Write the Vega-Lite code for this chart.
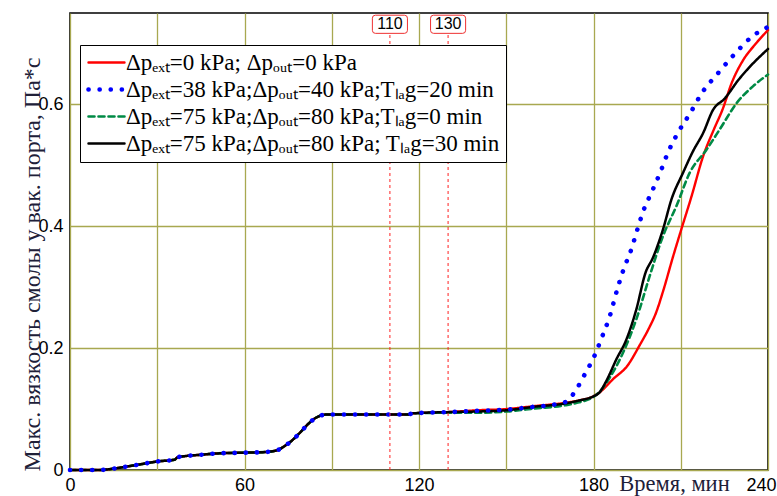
{
  "$schema": "https://vega.github.io/schema/vega-lite/v6.json",
  "autosize": "none",
  "width": 698,
  "height": 457,
  "padding": {"left": 70, "top": 13, "right": 9, "bottom": 26},
  "background": "white",
  "config": {
    "view": {"stroke": "#000000", "strokeWidth": 1.6},
    "axis": {"gridColor": "#a8a850", "gridWidth": 1.3, "gridOpacity": 1, "domain": false, "ticks": false,
             "labelFont": "Liberation Sans", "labelFontSize": 18, "labelColor": "#000000"}
  },
  "datasets": {
    "curves": [
      {"s":"r","t":0,"v":0},{"s":"r","t":10,"v":0},{"s":"r","t":13,"v":0.001},{"s":"r","t":16,"v":0.003},{"s":"r","t":20,"v":0.006},{"s":"r","t":25,"v":0.010},{"s":"r","t":30,"v":0.014},{"s":"r","t":36,"v":0.017},{"s":"r","t":37,"v":0.021},{"s":"r","t":40,"v":0.023},{"s":"r","t":45,"v":0.025},{"s":"r","t":50,"v":0.027},{"s":"r","t":60,"v":0.0285},{"s":"r","t":65,"v":0.029},{"s":"r","t":70,"v":0.031},{"s":"r","t":72,"v":0.034},{"s":"r","t":74,"v":0.040},{"s":"r","t":76,"v":0.047},{"s":"r","t":78,"v":0.056},{"s":"r","t":80,"v":0.066},{"s":"r","t":82,"v":0.076},{"s":"r","t":84,"v":0.084},{"s":"r","t":86,"v":0.089},{"s":"r","t":88,"v":0.091},{"s":"r","t":100,"v":0.091},{"s":"r","t":116,"v":0.091},{"s":"r","t":118,"v":0.093},{"s":"r","t":130,"v":0.095},{"s":"r","t":140,"v":0.098},{"s":"r","t":150,"v":0.100},{"s":"r","t":160,"v":0.105},{"s":"r","t":170,"v":0.110},{"s":"r","t":175,"v":0.114},{"s":"r","t":180,"v":0.121},{"s":"r","t":182,"v":0.127},{"s":"r","t":186.7,"v":0.149},{"s":"r","t":191.8,"v":0.172},{"s":"r","t":195.9,"v":0.205},{"s":"r","t":199,"v":0.232},{"s":"r","t":201.5,"v":0.258},{"s":"r","t":203.9,"v":0.293},{"s":"r","t":207.4,"v":0.351},{"s":"r","t":210.2,"v":0.395},{"s":"r","t":213.7,"v":0.449},{"s":"r","t":217.7,"v":0.515},{"s":"r","t":221.4,"v":0.559},{"s":"r","t":224.4,"v":0.592},{"s":"r","t":227.5,"v":0.635},{"s":"r","t":231.5,"v":0.673},{"s":"r","t":235.5,"v":0.698},{"s":"r","t":240,"v":0.722},

      {"s":"g","t":0,"v":0},{"s":"g","t":10,"v":0},{"s":"g","t":13,"v":0.001},{"s":"g","t":16,"v":0.003},{"s":"g","t":20,"v":0.006},{"s":"g","t":25,"v":0.010},{"s":"g","t":30,"v":0.014},{"s":"g","t":36,"v":0.017},{"s":"g","t":37,"v":0.021},{"s":"g","t":40,"v":0.023},{"s":"g","t":45,"v":0.025},{"s":"g","t":50,"v":0.027},{"s":"g","t":60,"v":0.0285},{"s":"g","t":65,"v":0.029},{"s":"g","t":70,"v":0.031},{"s":"g","t":72,"v":0.034},{"s":"g","t":74,"v":0.040},{"s":"g","t":76,"v":0.047},{"s":"g","t":78,"v":0.056},{"s":"g","t":80,"v":0.066},{"s":"g","t":82,"v":0.076},{"s":"g","t":84,"v":0.084},{"s":"g","t":86,"v":0.089},{"s":"g","t":88,"v":0.091},{"s":"g","t":100,"v":0.091},{"s":"g","t":116,"v":0.091},{"s":"g","t":118,"v":0.093},{"s":"g","t":130,"v":0.094},{"s":"g","t":140,"v":0.094},{"s":"g","t":150,"v":0.096},{"s":"g","t":160,"v":0.101},{"s":"g","t":170,"v":0.106},{"s":"g","t":175,"v":0.111},{"s":"g","t":180,"v":0.120},{"s":"g","t":182,"v":0.128},{"s":"g","t":185.5,"v":0.151},{"s":"g","t":190.1,"v":0.192},{"s":"g","t":194.7,"v":0.247},{"s":"g","t":199.3,"v":0.318},{"s":"g","t":203.9,"v":0.384},{"s":"g","t":208.5,"v":0.433},{"s":"g","t":213.1,"v":0.488},{"s":"g","t":218.9,"v":0.526},{"s":"g","t":223.4,"v":0.559},{"s":"g","t":229.2,"v":0.602},{"s":"g","t":234.9,"v":0.630},{"s":"g","t":240,"v":0.649},

      {"s":"k","t":0,"v":0},{"s":"k","t":10,"v":0},{"s":"k","t":13,"v":0.001},{"s":"k","t":16,"v":0.003},{"s":"k","t":20,"v":0.006},{"s":"k","t":25,"v":0.010},{"s":"k","t":30,"v":0.014},{"s":"k","t":36,"v":0.017},{"s":"k","t":37,"v":0.021},{"s":"k","t":40,"v":0.023},{"s":"k","t":45,"v":0.025},{"s":"k","t":50,"v":0.027},{"s":"k","t":60,"v":0.0285},{"s":"k","t":65,"v":0.029},{"s":"k","t":70,"v":0.031},{"s":"k","t":72,"v":0.034},{"s":"k","t":74,"v":0.040},{"s":"k","t":76,"v":0.047},{"s":"k","t":78,"v":0.056},{"s":"k","t":80,"v":0.066},{"s":"k","t":82,"v":0.076},{"s":"k","t":84,"v":0.084},{"s":"k","t":86,"v":0.089},{"s":"k","t":88,"v":0.091},{"s":"k","t":100,"v":0.091},{"s":"k","t":116,"v":0.091},{"s":"k","t":118,"v":0.093},{"s":"k","t":130,"v":0.095},{"s":"k","t":140,"v":0.096},{"s":"k","t":150,"v":0.098},{"s":"k","t":160,"v":0.104},{"s":"k","t":170,"v":0.109},{"s":"k","t":175,"v":0.114},{"s":"k","t":180,"v":0.121},{"s":"k","t":182,"v":0.127},{"s":"k","t":184.4,"v":0.146},{"s":"k","t":187.8,"v":0.181},{"s":"k","t":191.3,"v":0.214},{"s":"k","t":194.7,"v":0.263},{"s":"k","t":197.9,"v":0.324},{"s":"k","t":200.4,"v":0.348},{"s":"k","t":203.9,"v":0.395},{"s":"k","t":206.8,"v":0.444},{"s":"k","t":210.8,"v":0.488},{"s":"k","t":214.2,"v":0.523},{"s":"k","t":217.7,"v":0.553},{"s":"k","t":221.1,"v":0.591},{"s":"k","t":225.2,"v":0.610},{"s":"k","t":229.8,"v":0.640},{"s":"k","t":233.8,"v":0.662},{"s":"k","t":240,"v":0.691},

      {"s":"b","t":0,"v":0},{"s":"b","t":10,"v":0},{"s":"b","t":13,"v":0.001},{"s":"b","t":16,"v":0.003},{"s":"b","t":20,"v":0.006},{"s":"b","t":25,"v":0.010},{"s":"b","t":30,"v":0.014},{"s":"b","t":36,"v":0.017},{"s":"b","t":37,"v":0.021},{"s":"b","t":40,"v":0.023},{"s":"b","t":45,"v":0.025},{"s":"b","t":50,"v":0.027},{"s":"b","t":60,"v":0.0285},{"s":"b","t":65,"v":0.029},{"s":"b","t":70,"v":0.031},{"s":"b","t":72,"v":0.034},{"s":"b","t":74,"v":0.040},{"s":"b","t":76,"v":0.047},{"s":"b","t":78,"v":0.056},{"s":"b","t":80,"v":0.066},{"s":"b","t":82,"v":0.076},{"s":"b","t":84,"v":0.084},{"s":"b","t":86,"v":0.089},{"s":"b","t":88,"v":0.091},{"s":"b","t":100,"v":0.091},{"s":"b","t":116,"v":0.091},{"s":"b","t":118,"v":0.093},{"s":"b","t":130,"v":0.095},{"s":"b","t":140,"v":0.097},{"s":"b","t":150,"v":0.099},{"s":"b","t":160,"v":0.104},{"s":"b","t":165,"v":0.106},{"s":"b","t":168,"v":0.109},{"s":"b","t":171,"v":0.113},{"s":"b","t":172.3,"v":0.120},{"s":"b","t":174.6,"v":0.136},{"s":"b","t":176.3,"v":0.151},{"s":"b","t":178.4,"v":0.169},{"s":"b","t":180.3,"v":0.187},{"s":"b","t":182.9,"v":0.218},{"s":"b","t":185.5,"v":0.251},{"s":"b","t":188.2,"v":0.297},{"s":"b","t":190.4,"v":0.330},{"s":"b","t":193,"v":0.362},{"s":"b","t":195.1,"v":0.395},{"s":"b","t":197.2,"v":0.426},{"s":"b","t":200.1,"v":0.457},{"s":"b","t":203,"v":0.489},{"s":"b","t":205.6,"v":0.521},{"s":"b","t":209.1,"v":0.554},{"s":"b","t":213.3,"v":0.586},{"s":"b","t":217.3,"v":0.619},{"s":"b","t":222.6,"v":0.650},{"s":"b","t":228.6,"v":0.683},{"s":"b","t":234.7,"v":0.712},{"s":"b","t":240,"v":0.727}
    ],
    "marks": [{"t":110},{"t":130}]
  },
  "encoding": {
    "x": {"field": "t", "type": "quantitative",
          "scale": {"domain": [0, 240], "nice": false},
          "axis": {"values": [0,30,60,90,120,150,180,210,240], "grid": true,
                   "labelExpr": "datum.value % 60 == 0 ? datum.label : ''",
                   "labelFlush": false,
                   "labelOffset": {"expr": "datum.value == 240 ? -7 : 0"},
                   "labelPadding": 6,
                   "title": "Время, мин", "titleFont": "Liberation Serif", "titleFontSize": 22.5,
                   "titleFontWeight": "normal", "titleColor": "#202038",
                   "titleX": 604, "titleY": 20, "titleBaseline": "alphabetic", "titleAlign": "center"}}
  },
  "layer": [
    {
      "data": {"name": "curves"},
      "mark": {"type": "line", "strokeCap": "round", "strokeJoin": "round", "interpolate": "monotone"},
      "encoding": {
        "y": {"field": "v", "type": "quantitative",
              "scale": {"domain": [0, 0.75], "nice": false},
              "axis": {"values": [0, 0.2, 0.4, 0.6], "grid": true, "format": "~g", "labelPadding": 7,
                       "title": "Макс. вязкость смолы у вак. порта, Па*с",
                       "titleFont": "Liberation Serif", "titleFontSize": 24, "titleFontWeight": "normal",
                       "titleColor": "#202038", "titleX": -38, "titleY": 251, "titleAlign": "center",
                       "titleBaseline": "middle"}},
        "color": {"field": "s", "type": "nominal",
                  "scale": {"domain": ["r","b","g","k"], "range": ["#ff0000","#0000ff","#008a45","#000000"]},
                  "legend": {"title": null, "orient": "none", "legendX": 10, "legendY": 32,
                             "padding": 6, "strokeColor": "#000000", "fillColor": "#ffffff",
                             "labelFont": "Liberation Serif", "labelFontSize": 23, "labelColor": "#000000",
                             "labelLimit": 600, "symbolType": "M-1,0H3", "symbolSize": 324,
                             "labelOffset": 17, "rowPadding": 3,
                             "labelExpr": "datum.label == 'r' ? 'Δpₑₓₜ=0 kPa; Δpₒᵤₜ=0 kPa' : datum.label == 'b' ? 'Δpₑₓₜ=38 kPa;Δpₒᵤₜ=40 kPa;Tₗₐg=20 min' : datum.label == 'g' ? 'Δpₑₓₜ=75 kPa;Δpₒᵤₜ=80 kPa;Tₗₐg=0 min' : 'Δpₑₓₜ=75 kPa;Δpₒᵤₜ=80 kPa; Tₗₐg=30 min'",
                             "encode": {"symbols": {"update": {"strokeCap": {"value": "round"}}}}}},
        "strokeDash": {"field": "s", "type": "nominal",
                       "scale": {"domain": ["r","b","g","k"], "range": [[1,0],[0.1,11],[6,4],[1,0]]},
                       "legend": {"title": null}},
        "strokeWidth": {"field": "s", "type": "nominal",
                        "scale": {"type": "ordinal", "domain": ["r","b","g","k"], "range": [2.4,4.6,2.6,2.5]},
                        "legend": {"title": null}},
        "order": {"field": "t", "type": "quantitative"}
      }
    },
    {
      "data": {"name": "marks"},
      "mark": {"type": "rule", "color": "#ff2020", "strokeDash": [3,3], "strokeWidth": 1},
      "encoding": {"y": {"datum": 0}, "y2": {"datum": 0.718}}
    },
    {
      "data": {"name": "marks"},
      "mark": {"type": "point", "shape": "M-1.6,-1H1.6Q1.93,-1 1.93,-0.67V0.67Q1.93,1 1.6,1H-1.6Q-1.93,1 -1.93,0.67V-0.67Q-1.93,-1 -1.6,-1Z",
               "size": 330, "filled": true, "fill": "#ffffff", "stroke": "#ee3030", "strokeWidth": 1, "opacity": 1},
      "encoding": {"y": {"datum": 0.7315}}
    },
    {
      "data": {"name": "marks"},
      "mark": {"type": "text", "font": "Liberation Sans", "fontSize": 16, "color": "#000000", "baseline": "middle", "align": "center"},
      "encoding": {"y": {"datum": 0.7315}, "text": {"field": "t", "type": "quantitative"}}
    }
  ]
}
